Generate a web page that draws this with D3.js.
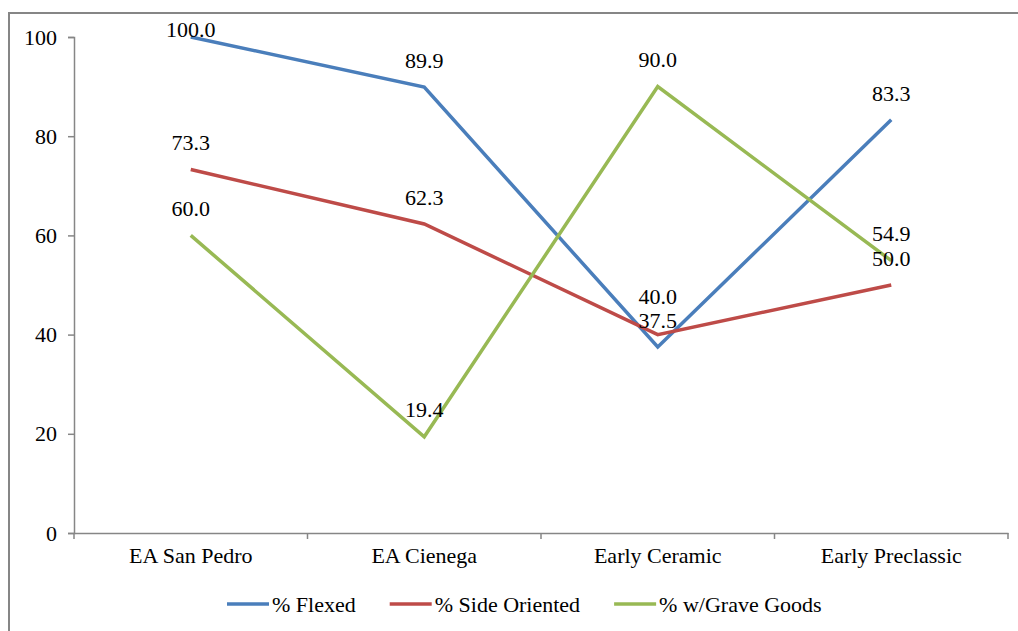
<!DOCTYPE html>
<html>
<head>
<meta charset="utf-8">
<script src="https://cdn.jsdelivr.net/npm/d3@7"></script>
<style>
  body { margin: 0; background: #fff; }
</style>
</head>
<body>
<div id="chart"></div>
<script>
// Chart data
var categories = ["EA San Pedro", "EA Cienega", "Early Ceramic", "Early Preclassic"];
var seriesNames = ["% Flexed", "% Side Oriented", "% w/Grave Goods"];
var flexed = [100.0, 89.9, 37.5, 83.3];
var sideOriented = [73.3, 62.3, 40.0, 50.0];
var graveGoods = [60.0, 19.4, 90.0, 54.9];
var yTicks = [0, 20, 40, 60, 80, 100];

var colors = ["#4A7EBB", "#BE4B48", "#98B954"];
var allSeries = [flexed, sideOriented, graveGoods];

var width = 1018, height = 631;
var plot = { left: 74, right: 1008, top: 37, bottom: 533 };
var axisColor = "#868686";
var fontFamily = "'Liberation Serif'";
var fontSize = "22px";

var svg = d3.select("#chart").append("svg")
    .attr("width", width)
    .attr("height", height);

// outer chart border (runs off the right and bottom edges)
svg.append("rect")
    .attr("x", 9).attr("y", 13)
    .attr("width", 1030).attr("height", 640)
    .attr("fill", "none")
    .attr("stroke", axisColor)
    .attr("stroke-width", 2);

var x = d3.scaleBand()
    .domain(categories)
    .range([plot.left, plot.right])
    .padding(0);

var y = d3.scaleLinear()
    .domain([0, 100])
    .range([plot.bottom, plot.top]);

// y axis
var yAxis = svg.append("g")
    .attr("transform", "translate(" + plot.left + ",0)")
    .call(d3.axisLeft(y).tickValues(yTicks).tickSize(6).tickPadding(11).tickFormat(d3.format("d")));
yAxis.select(".domain").attr("stroke", axisColor).attr("stroke-width", 1.5);
yAxis.selectAll(".tick line").attr("stroke", axisColor).attr("stroke-width", 1.5);
yAxis.selectAll(".tick text")
    .style("font-family", fontFamily)
    .style("font-size", fontSize)
    .attr("fill", "#000");

// x axis, labels centred in each band, ticks on band edges
var xAxis = svg.append("g")
    .attr("transform", "translate(0," + plot.bottom + ")")
    .call(d3.axisBottom(x).tickSize(0).tickPadding(14).tickSizeOuter(0));
xAxis.select(".domain").attr("stroke", axisColor).attr("stroke-width", 1.5);
xAxis.selectAll(".tick text")
    .style("font-family", fontFamily)
    .style("font-size", fontSize)
    .attr("fill", "#000");

var edges = categories.map(d => x(d)).concat([x.range()[1]]);
xAxis.selectAll(".edge")
    .data(edges)
    .enter()
    .append("line")
    .attr("class", "edge")
    .attr("x1", d => d).attr("x2", d => d)
    .attr("y1", 0).attr("y2", 6)
    .attr("stroke", axisColor)
    .attr("stroke-width", 1.5);

// lines
var line = d3.line()
    .x((d, i) => x(categories[i]) + x.bandwidth() / 2)
    .y(d => y(d));

svg.selectAll(".series")
    .data(allSeries)
    .enter()
    .append("path")
    .attr("class", "series")
    .attr("d", line)
    .attr("fill", "none")
    .attr("stroke", (d, i) => colors[i])
    .attr("stroke-width", 3.5)
    .attr("stroke-linejoin", "miter");

// data labels above each point
var labelNudge = { "1-2": -11 }; // Excel moved this one up a bit
allSeries.forEach(function (vals, s) {
    svg.selectAll(".label" + s)
        .data(vals)
        .enter()
        .append("text")
        .attr("class", "label" + s)
        .attr("x", (d, i) => x(categories[i]) + x.bandwidth() / 2)
        .attr("y", function (d, i) {
            var c = y(d) - 27 + (labelNudge[s + "-" + i] || 0);
            return Math.max(c, 29.5);
        })
        .attr("dy", "0.35em")
        .attr("text-anchor", "middle")
        .style("font-family", fontFamily)
        .style("font-size", fontSize)
        .text(d => d.toFixed(1));
});

// legend
var legend = svg.append("g").attr("transform", "translate(0,604)");
var lx = 227;
seriesNames.forEach(function (name, i) {
    legend.append("line")
        .attr("x1", lx).attr("x2", lx + 42)
        .attr("y1", 0).attr("y2", 0)
        .attr("stroke", colors[i])
        .attr("stroke-width", 3.5);
    var t = legend.append("text")
        .attr("x", lx + 45)
        .attr("y", 0)
        .attr("dy", "0.35em")
        .style("font-family", fontFamily)
        .style("font-size", fontSize)
        .text(name);
    lx += 45 + t.node().getComputedTextLength() + 34;
});
</script>
</body>
</html>
